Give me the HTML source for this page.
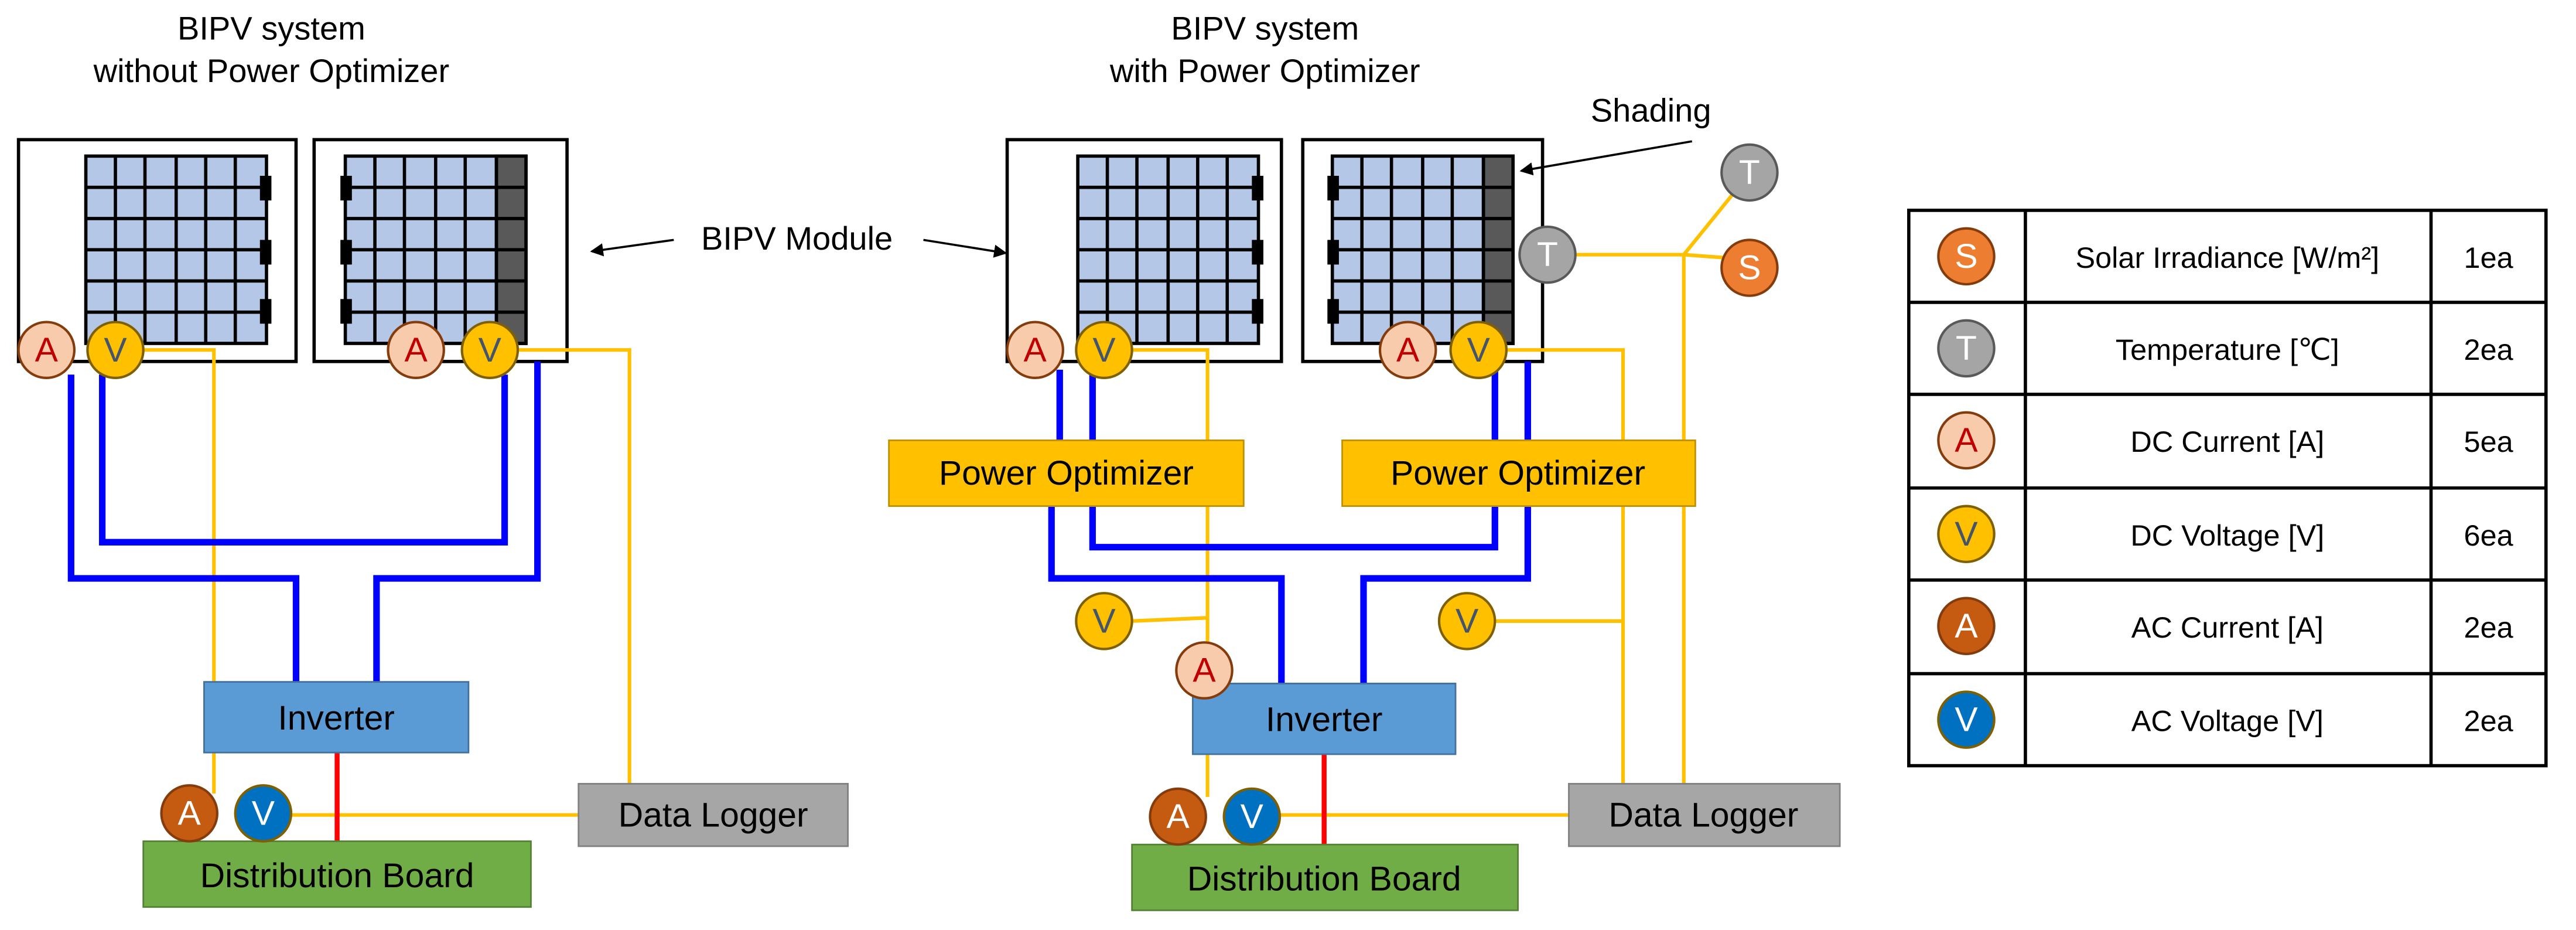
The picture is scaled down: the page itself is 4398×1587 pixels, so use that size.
<!DOCTYPE html>
<html><head><meta charset="utf-8"><style>
html,body{margin:0;padding:0;background:#fff;}
svg{display:block;}
text{font-family:"Liberation Sans","NanumGothic",sans-serif;}
</style></head><body>
<svg width="4398" height="1587" viewBox="0 0 1568 566" xmlns="http://www.w3.org/2000/svg">
<defs>
<marker id="ar" markerWidth="8" markerHeight="8" refX="7" refY="4" orient="auto" markerUnits="userSpaceOnUse"><path d="M0,0 L8,4 L0,8 z" fill="#000"/></marker>
</defs>
<rect width="1568" height="566" fill="#fff"/>

<g font-size="20" text-anchor="middle" fill="#000">
<text x="165" y="24">BIPV system</text>
<text x="165" y="50">without Power Optimizer</text>
<text x="770" y="24">BIPV system</text>
<text x="770" y="50">with Power Optimizer</text>
<text x="1005" y="74">Shading</text>
<text x="485" y="152">BIPV Module</text>
</g>
<line x1="410" y1="146" x2="360" y2="153" stroke="#000" stroke-width="1.3" marker-end="url(#ar)"/>
<line x1="562" y1="146" x2="612" y2="154" stroke="#000" stroke-width="1.3" marker-end="url(#ar)"/>
<line x1="1030" y1="86" x2="926" y2="104" stroke="#000" stroke-width="1.3" marker-end="url(#ar)"/>

<g fill="none" stroke="#000" stroke-width="2">
<rect x="11" y="85" width="169" height="135"/>
<rect x="191" y="85" width="154" height="135"/>
<rect x="613" y="85" width="167" height="135"/>
<rect x="793" y="85" width="146" height="135"/>
</g>

<g stroke="#000" stroke-width="2">
<rect x="52" y="95" width="110" height="114" fill="#B4C7E7"/>
<rect x="656" y="95" width="110" height="114" fill="#B4C7E7"/>
<rect x="210" y="95" width="110" height="114" fill="#B4C7E7"/>
<rect x="811" y="95" width="110" height="114" fill="#B4C7E7"/>
<rect x="302" y="95" width="18" height="114" fill="#595959"/>
<rect x="903" y="95" width="18" height="114" fill="#595959"/>
</g>
<g stroke="#000" stroke-width="2">
<path d="M70,95V209M88,95V209M107,95V209M125,95V209M143,95V209 M52,114H162M52,133H162M52,152H162M52,171H162M52,190H162"/>
<path d="M674,95V209M692,95V209M711,95V209M729,95V209M747,95V209 M656,114H766M656,133H766M656,152H766M656,171H766M656,190H766"/>
<path d="M228,95V209M246,95V209M265,95V209M283,95V209M302,95V209 M210,114H320M210,133H320M210,152H320M210,171H320M210,190H320"/>
<path d="M829,95V209M847,95V209M866,95V209M884,95V209M903,95V209 M811,114H921M811,133H921M811,152H921M811,171H921M811,190H921"/>
</g>
<g fill="#000">
<rect x="158" y="107" width="7" height="15"/><rect x="158" y="146" width="7" height="15"/><rect x="158" y="182" width="7" height="15"/>
<rect x="762" y="107" width="7" height="15"/><rect x="762" y="146" width="7" height="15"/><rect x="762" y="182" width="7" height="15"/>
<rect x="207" y="107" width="7" height="15"/><rect x="207" y="146" width="7" height="15"/><rect x="207" y="182" width="7" height="15"/>
<rect x="808" y="107" width="7" height="15"/><rect x="808" y="146" width="7" height="15"/><rect x="808" y="182" width="7" height="15"/>
</g>

<g fill="none" stroke="#FFC000" stroke-width="2.2">
<path d="M85,213H130V483"/>
<path d="M315,213H383V477"/>
<path d="M175,496H352"/>
<path d="M688,213H735V485"/>
<path d="M688,378L735,376"/>
<path d="M915,213H988V477"/>
<path d="M909,378H988"/>
<path d="M778,496H955"/>
<path d="M958,155H1025V477"/>
<path d="M1025,155L1055,118M1025,155L1052,157"/>
</g>

<g fill="none" stroke="#0000FF" stroke-width="4">
<path d="M43,228V352H180V415"/>
<path d="M62,228V330H307V228"/>
<path d="M327,220V352H229V415"/>
<path d="M645,225V268M665,225V268M910,225V268M930,220V268"/>
<path d="M640,308V352H780V416"/>
<path d="M665,308V333H910V308"/>
<path d="M930,308V352H830V416"/>
</g>

<line x1="205" y1="458" x2="205" y2="512" stroke="#FF0000" stroke-width="3"/>
<line x1="806" y1="458" x2="806" y2="514" stroke="#FF0000" stroke-width="3"/>

<g font-size="21" text-anchor="middle">
<rect x="124" y="415" width="161" height="43" fill="#5B9BD5" stroke="#41719C" stroke-width="1"/>
<text x="204.5" y="444">Inverter</text>
<rect x="726" y="416" width="160" height="43" fill="#5B9BD5" stroke="#41719C" stroke-width="1"/>
<text x="806" y="445">Inverter</text>
<rect x="87" y="512" width="236" height="40" fill="#70AD47" stroke="#548235" stroke-width="1"/>
<text x="205" y="540">Distribution Board</text>
<rect x="689" y="514" width="235" height="40" fill="#70AD47" stroke="#548235" stroke-width="1"/>
<text x="806" y="542">Distribution Board</text>
<rect x="352" y="477" width="164" height="38" fill="#A6A6A6" stroke="#808080" stroke-width="1"/>
<text x="434" y="503">Data Logger</text>
<rect x="955" y="477" width="165" height="38" fill="#A6A6A6" stroke="#808080" stroke-width="1"/>
<text x="1037" y="503">Data Logger</text>
<rect x="541" y="268" width="216" height="40" fill="#FFC000" stroke="#BF9000" stroke-width="1"/>
<text x="649" y="295">Power Optimizer</text>
<rect x="817" y="268" width="215" height="40" fill="#FFC000" stroke="#BF9000" stroke-width="1"/>
<text x="924" y="295">Power Optimizer</text>
</g>

<g font-size="21" text-anchor="middle" stroke-width="1.5">
<g fill="#F8CBAD" stroke="#843C0C">
<circle cx="28" cy="213" r="17"/><circle cx="253" cy="213" r="17"/>
<circle cx="630" cy="213" r="17"/><circle cx="857" cy="213" r="17"/>
<circle cx="733" cy="408" r="17"/>
</g>
<g fill="#C00000">
<text x="28" y="220">A</text><text x="253" y="220">A</text>
<text x="630" y="220">A</text><text x="857" y="220">A</text>
<text x="733" y="415">A</text>
</g>
<g fill="#FFC000" stroke="#7F6000">
<circle cx="70" cy="213" r="17"/><circle cx="298" cy="213" r="17"/>
<circle cx="672" cy="213" r="17"/><circle cx="900" cy="213" r="17"/>
<circle cx="672" cy="378" r="17"/><circle cx="893" cy="378" r="17"/>
</g>
<g fill="#44546A">
<text x="70" y="220">V</text><text x="298" y="220">V</text>
<text x="672" y="220">V</text><text x="900" y="220">V</text>
<text x="672" y="385">V</text><text x="893" y="385">V</text>
</g>
<g stroke="#843C0C">
<circle cx="115" cy="495" r="17" fill="#C55A11"/><circle cx="717" cy="497" r="17" fill="#C55A11"/>
<circle cx="160" cy="495" r="17" fill="#0070C0" stroke="#7F6000"/><circle cx="762" cy="497" r="17" fill="#0070C0" stroke="#7F6000"/>
</g>
<g fill="#fff">
<text x="115" y="502">A</text><text x="717" y="504">A</text>
<text x="160" y="502">V</text><text x="762" y="504">V</text>
</g>
<circle cx="1065" cy="105" r="17" fill="#A5A5A5" stroke="#595959"/>
<circle cx="942" cy="155" r="17" fill="#A5A5A5" stroke="#595959"/>
<circle cx="1065" cy="163" r="17" fill="#ED7D31" stroke="#843C0C"/>
<g fill="#fff">
<text x="1065" y="112">T</text><text x="942" y="162">T</text><text x="1065" y="170">S</text>
</g>
</g>

<g fill="none" stroke="#000" stroke-width="2">
<rect x="1162" y="128" width="388" height="338"/>
<path d="M1233,128V466M1480,128V466M1162,184H1550M1162,240H1550M1162,297H1550M1162,353H1550M1162,410H1550"/>
</g>
<g font-size="21" text-anchor="middle" stroke-width="1.5">
<circle cx="1197" cy="156" r="17" fill="#ED7D31" stroke="#843C0C"/>
<circle cx="1197" cy="212" r="17" fill="#A5A5A5" stroke="#595959"/>
<circle cx="1197" cy="268" r="17" fill="#F8CBAD" stroke="#843C0C"/>
<circle cx="1197" cy="325" r="17" fill="#FFC000" stroke="#7F6000"/>
<circle cx="1197" cy="381" r="17" fill="#C55A11" stroke="#843C0C"/>
<circle cx="1197" cy="438" r="17" fill="#0070C0" stroke="#7F6000"/>
<text x="1197" y="163" fill="#fff">S</text>
<text x="1197" y="219" fill="#fff">T</text>
<text x="1197" y="275" fill="#C00000">A</text>
<text x="1197" y="332" fill="#44546A">V</text>
<text x="1197" y="388" fill="#fff">A</text>
<text x="1197" y="445" fill="#fff">V</text>
</g>
<g font-size="18" text-anchor="middle" fill="#000">
<text x="1356" y="163">Solar Irradiance [W/m²]</text>
<text x="1356" y="219">Temperature [℃]</text>
<text x="1356" y="275">DC Current [A]</text>
<text x="1356" y="332">DC Voltage [V]</text>
<text x="1356" y="388">AC Current [A]</text>
<text x="1356" y="445">AC Voltage [V]</text>
<text x="1515" y="163">1ea</text>
<text x="1515" y="219">2ea</text>
<text x="1515" y="275">5ea</text>
<text x="1515" y="332">6ea</text>
<text x="1515" y="388">2ea</text>
<text x="1515" y="445">2ea</text>
</g>
</svg>
</body></html>
